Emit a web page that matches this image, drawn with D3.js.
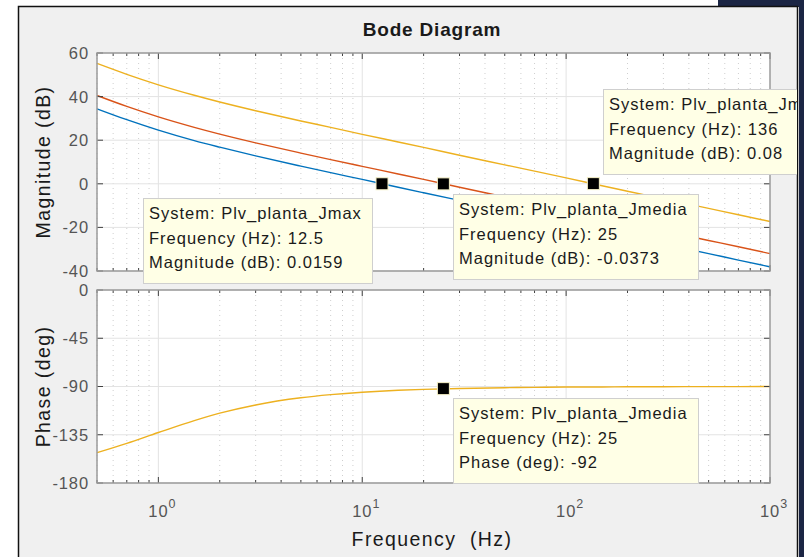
<!DOCTYPE html>
<html>
<head>
<meta charset="utf-8">
<script src="https://cdn.jsdelivr.net/npm/d3@7"></script>
<style>
  body { margin: 0; background: #fff; }
  text { font-family: "Liberation Sans", Arial, sans-serif; }
</style>
</head>
<body>
<div id="chart"></div>
<script>
// frequencies (Hz)
const freqs = [0.5, 0.7, 1, 1.5, 2, 3, 5, 7, 10, 15, 20, 30, 50, 70, 100, 150, 200, 300, 500, 700, 1000];
// magnitude (dB) per system
const magJmax   = [34.4, 29.4, 24.6, 19.8, 16.8, 12.8, 8.1, 5.1, 2.0, -1.6, -4.1, -7.6, -12.0, -15.0, -18.1, -21.6, -24.1, -27.6, -32.0, -35.0, -38.1];
const magJmedia = [40.5, 35.5, 30.7, 25.9, 22.8, 18.8, 14.1, 11.1, 8.0, 4.5, 2.0, -1.6, -6.0, -8.9, -12.0, -15.6, -18.1, -21.6, -26.0, -28.9, -32.0];
const magJmin   = [55.2, 50.2, 45.4, 40.6, 37.5, 33.5, 28.8, 25.9, 22.7, 19.2, 16.7, 13.1, 8.7, 5.8, 2.7, -0.9, -3.4, -6.9, -11.3, -14.2, -17.3];
// phase (deg), the three systems lie on top of each other
const phase = [-151.7, -143.0, -132.9, -121.8, -114.9, -107.2, -100.5, -97.6, -95.3, -93.5, -92.7, -91.8, -91.1, -90.8, -90.5, -90.4, -90.3, -90.2, -90.1, -90.1, -90.0];

const magTicks = [60, 40, 20, 0, -20, -40];
const phaseTicks = [0, -45, -90, -135, -180];
const decades = [0, 1, 2, 3];

const seriesColors = ["#0072BD", "#D95319", "#EDB120"];

// data tips
const tips = [
  {panel: "mag", f: 12.5, v: 0.0159, lines: ["System: Plv_planta_Jmax", "Frequency (Hz): 12.5", "Magnitude (dB): 0.0159"], bx: 143, by: 198, bw: 229},
  {panel: "mag", f: 25, v: -0.0373, lines: ["System: Plv_planta_Jmedia", "Frequency (Hz): 25", "Magnitude (dB): -0.0373"], bx: 453, by: 194, bw: 245},
  {panel: "mag", f: 136, v: 0.08, lines: ["System: Plv_planta_Jmin", "Frequency (Hz): 136", "Magnitude (dB): 0.08"], bx: 603, by: 89, bw: 240},
  {panel: "phase", f: 25, v: -92, lines: ["System: Plv_planta_Jmedia", "Frequency (Hz): 25", "Phase (deg): -92"], bx: 453, by: 398, bw: 245}
];

const W = 804, H = 557;
const svg = d3.select("#chart").append("svg")
  .attr("width", W).attr("height", H);

svg.append("defs").append("clipPath").attr("id", "fig")
  .append("rect").attr("x", 19).attr("y", 7).attr("width", 778).attr("height", 560);

// window frame
svg.append("rect").attr("x", 0).attr("y", 0).attr("width", W).attr("height", H).attr("fill", "#fff");
svg.append("rect").attr("x", 718).attr("y", 0).attr("width", 86).attr("height", 7).attr("fill", "#1b2544");
svg.append("rect").attr("x", 799).attr("y", 0).attr("width", 5).attr("height", H).attr("fill", "#1b2544");
svg.append("rect").attr("x", 18.5).attr("y", 6.5).attr("width", 779).attr("height", 560)
  .attr("fill", "#f0f0f0").attr("stroke", "#111").attr("stroke-width", 1.5);

const fig = svg.append("g").attr("clip-path", "url(#fig)");

const x = d3.scaleLog().domain([0.5, 1000]).range([97, 770]);
const yMag = d3.scaleLinear().domain([-40, 60]).range([271, 53]);
const yPh = d3.scaleLinear().domain([-180, 0]).range([483, 290]);

const minorF = [];
[0.1, 1, 10, 100].forEach(d => {
  for (let k = 2; k <= 9; k++) {
    const f = d * k;
    if (f >= 0.5 && f < 1000) minorF.push(f);
  }
});
const majorF = decades.map(d => Math.pow(10, d));

function panel(y, ticks) {
  const [y1, y0] = y.range();
  const x0 = x.range()[0], x1 = x.range()[1];
  const g = fig.append("g");
  g.append("rect").attr("x", x0).attr("y", y0).attr("width", x1 - x0).attr("height", y1 - y0)
    .attr("fill", "#fff");
  // minor grid
  g.selectAll(".mg").data(minorF).join("line")
    .attr("x1", d => x(d)).attr("x2", d => x(d)).attr("y1", y0).attr("y2", y1)
    .attr("stroke", "#cfcfcf").attr("stroke-dasharray", "1,4").attr("stroke-width", 1);
  // major grid
  g.selectAll(".vg").data(majorF.filter(f => f < 1000)).join("line")
    .attr("x1", d => x(d)).attr("x2", d => x(d)).attr("y1", y0).attr("y2", y1)
    .attr("stroke", "#e3e3e3").attr("stroke-width", 1);
  g.selectAll(".hg").data(ticks).join("line")
    .attr("x1", x0).attr("x2", x1).attr("y1", d => y(d)).attr("y2", d => y(d))
    .attr("stroke", "#e3e3e3").attr("stroke-width", 1);
  return g;
}

function frame(g, y, ticks) {
  const [y1, y0] = y.range();
  const x0 = x.range()[0], x1 = x.range()[1];
  // ticks point inward
  const tk = g.append("g").attr("stroke", "#404040").attr("stroke-width", 1);
  minorF.forEach(f => {
    tk.append("line").attr("x1", x(f)).attr("x2", x(f)).attr("y1", y0).attr("y2", y0 + 3);
    tk.append("line").attr("x1", x(f)).attr("x2", x(f)).attr("y1", y1).attr("y2", y1 - 3);
  });
  majorF.forEach(f => {
    tk.append("line").attr("x1", x(f)).attr("x2", x(f)).attr("y1", y0).attr("y2", y0 + 6);
    tk.append("line").attr("x1", x(f)).attr("x2", x(f)).attr("y1", y1).attr("y2", y1 - 6);
  });
  ticks.forEach(t => {
    tk.append("line").attr("x1", x0).attr("x2", x0 + 6).attr("y1", y(t)).attr("y2", y(t));
    tk.append("line").attr("x1", x1).attr("x2", x1 - 6).attr("y1", y(t)).attr("y2", y(t));
  });
  g.append("rect").attr("x", x0).attr("y", y0).attr("width", x1 - x0).attr("height", y1 - y0)
    .attr("fill", "none").attr("stroke", "#9a9a9a").attr("stroke-width", 1.5);
  fig.selectAll(null).data(ticks).join("text")
    .attr("x", x0 - 8).attr("y", d => y(d)).attr("dy", "0.36em")
    .attr("text-anchor", "end").attr("fill", "#555").attr("font-size", 16.5)
    .attr("letter-spacing", 0.9)
    .text(d => d);
}

const line = y => d3.line().x((d, i) => x(freqs[i])).y(d => y(d)).curve(d3.curveMonotoneX);

const gMag = panel(yMag, magTicks);
[magJmax, magJmedia, magJmin].forEach((s, i) => {
  gMag.append("path").datum(s).attr("d", line(yMag))
    .attr("fill", "none").attr("stroke", seriesColors[i]).attr("stroke-width", 1.4);
});
frame(gMag, yMag, magTicks);

const gPh = panel(yPh, phaseTicks);
gPh.append("path").datum(phase).attr("d", line(yPh))
  .attr("fill", "none").attr("stroke", seriesColors[2]).attr("stroke-width", 1.4);
frame(gPh, yPh, phaseTicks);

// x tick labels 10^n
decades.forEach(d => {
  const t = fig.append("text").attr("x", x(Math.pow(10, d)) + 4).attr("y", 517)
    .attr("text-anchor", "middle").attr("fill", "#555").attr("font-size", 16.5)
    .attr("letter-spacing", 0.9);
  t.append("tspan").text("10");
  t.append("tspan").attr("dy", -9).attr("font-size", 12.5).text(d);
});

// titles and labels
fig.append("text").attr("x", 432).attr("y", 36).attr("text-anchor", "middle")
  .attr("font-weight", "bold").attr("font-size", 19).attr("letter-spacing", 0.8)
  .attr("fill", "#1a1a1a").text("Bode Diagram");
fig.append("text").attr("x", 432).attr("y", 546).attr("text-anchor", "middle")
  .attr("font-size", 19.5).attr("letter-spacing", 1.4).attr("fill", "#1a1a1a")
  .attr("xml:space", "preserve").text("Frequency  (Hz)");
fig.append("text").attr("transform", "translate(50," + yMag(10) + ") rotate(-90)")
  .attr("text-anchor", "middle").attr("font-size", 19.5).attr("letter-spacing", 1.4)
  .attr("fill", "#1a1a1a").text("Magnitude (dB)");
fig.append("text").attr("transform", "translate(50," + yPh(-90) + ") rotate(-90)")
  .attr("text-anchor", "middle").attr("font-size", 19.5).attr("letter-spacing", 1.4)
  .attr("fill", "#1a1a1a").text("Phase (deg)");

// data tips
tips.forEach(t => {
  const y = t.panel === "mag" ? yMag : yPh;
  const g = fig.append("g");
  g.append("rect").attr("x", t.bx + 0.5).attr("y", t.by + 0.5).attr("width", t.bw).attr("height", 85)
    .attr("fill", "#ffffe6").attr("stroke", "#cfcfcf");
  t.lines.forEach((s, i) => {
    g.append("text").attr("x", t.bx + 6).attr("y", t.by + 21 + i * 24.5)
      .attr("font-size", 16.5).attr("letter-spacing", 1.0).attr("fill", "#1a1a1a").text(s);
  });
  g.append("rect").attr("x", x(t.f) - 6).attr("y", y(t.v) - 6).attr("width", 12).attr("height", 12)
    .attr("fill", "#000").attr("stroke", "#f7f2c8").attr("stroke-width", 1);
});
</script>
</body>
</html>
